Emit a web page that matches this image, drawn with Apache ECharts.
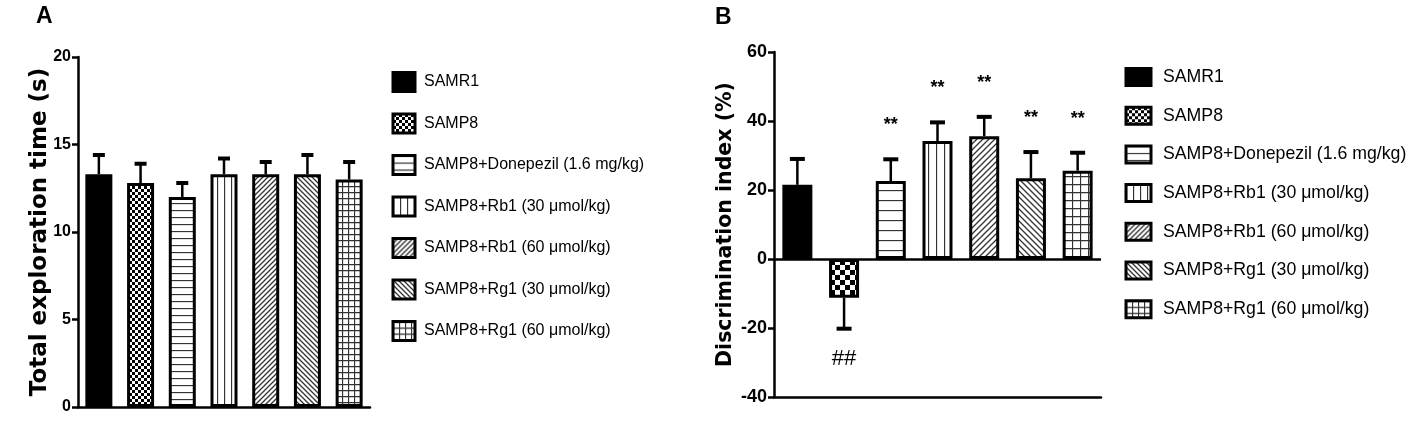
<!DOCTYPE html>
<html>
<head>
<meta charset="utf-8">
<script src="https://cdn.jsdelivr.net/npm/echarts@6/dist/echarts.min.js"></script>
<style>
  html, body { margin: 0; padding: 0; background: #fff; }
  #main { width: 1419px; height: 427px; }
</style>
</head>
<body>
<div id="main"></div>
<script>
// groups (x categories / legend)
const groups = [
  'SAMR1',
  'SAMP8',
  'SAMP8+Donepezil (1.6 mg/kg)',
  'SAMP8+Rb1 (30 μmol/kg)',
  'SAMP8+Rb1 (60 μmol/kg)',
  'SAMP8+Rg1 (30 μmol/kg)',
  'SAMP8+Rg1 (60 μmol/kg)'
];
// panel A: total exploration time (s)
const timeMean = [13.3, 12.8, 12.0, 13.3, 13.3, 13.3, 13.0];
const timeErr = [1.1, 1.1, 0.8, 0.9, 0.7, 1.1, 1.0];
const timeTicks = [0, 5, 10, 15, 20];
// panel B: discrimination index (%)
const diMean = [21.5, -11.2, 22.6, 34.2, 35.6, 23.4, 25.6];
const diErr = [7.5, 9.0, 6.3, 5.4, 5.6, 7.6, 5.2];
const diMarks = ['', '##', '**', '**', '**', '**', '**'];
const diTicks = [-40, -20, 0, 20, 40, 60];

const kinds = ['solid', 'check', 'hline', 'vline', 'diag1', 'diag2', 'grid'];
const narrow = "'Liberation Sans Narrow', 'Liberation Sans', Arial, sans-serif";
const sans = "'Liberation Sans', Arial, sans-serif";

function makePattern(kind, s) {
  if (kind === 'solid') return '#000';
  const c = document.createElement('canvas');
  const n = kind === 'check' ? s * 2 : s;
  c.width = n; c.height = n;
  const g = c.getContext('2d');
  g.fillStyle = '#fff';
  g.fillRect(0, 0, n, n);
  g.strokeStyle = '#333';
  g.lineWidth = 1.3;
  g.beginPath();
  if (kind === 'check') {
    g.fillStyle = '#000';
    g.fillRect(0, 0, s, s);
    g.fillRect(s, s, s, s);
  } else if (kind === 'hline') {
    g.moveTo(0, 0.5); g.lineTo(n, 0.5);
  } else if (kind === 'vline') {
    g.moveTo(0.5, 0); g.lineTo(0.5, n);
  } else if (kind === 'grid') {
    g.moveTo(0, 0.5); g.lineTo(n, 0.5);
    g.moveTo(0.5, 0); g.lineTo(0.5, n);
  } else if (kind === 'diag1') {
    g.moveTo(0, n); g.lineTo(n, 0);
    g.moveTo(-1, 1); g.lineTo(1, -1);
    g.moveTo(n - 1, n + 1); g.lineTo(n + 1, n - 1);
  } else if (kind === 'diag2') {
    g.moveTo(0, 0); g.lineTo(n, n);
    g.moveTo(n - 1, -1); g.lineTo(n + 1, 1);
    g.moveTo(-1, n - 1); g.lineTo(1, n + 1);
  }
  g.stroke();
  return { image: c, repeat: 'repeat' };
}

const sizeA = { check: 3, hline: 7, vline: 7, diag1: 5, diag2: 5, grid: 6 };
const sizeB = { check: 5, hline: 10, vline: 8, diag1: 6, diag2: 6, grid: 8 };

function barSeries(means, grid, bw, sizes) {
  return groups.map((name, i) => ({
    type: 'bar',
    name: name,
    xAxisIndex: grid,
    yAxisIndex: grid,
    data: means.map((v, j) => (j === i ? v : '-')),
    barWidth: bw,
    barGap: '-100%',
    silent: true,
    itemStyle: { color: makePattern(kinds[i], sizes[kinds[i]]), borderColor: '#000', borderWidth: 3 }
  }));
}

function errSeries(means, errs, grid, capW, marks) {
  return {
    type: 'custom',
    xAxisIndex: grid,
    yAxisIndex: grid,
    z: 5,
    silent: true,
    data: means.map((v, i) => [i, v, errs[i]]),
    renderItem: function (params, api) {
      const i = api.value(0), v = api.value(1), e = api.value(2);
      const dir = v < 0 ? -1 : 1;
      const p0 = api.coord([i, v]);
      const p1 = api.coord([i, v + dir * e]);
      const kids = [
        { type: 'line', shape: { x1: p0[0], y1: p0[1], x2: p1[0], y2: p1[1] }, style: { stroke: '#000', lineWidth: 2.5 } },
        { type: 'line', shape: { x1: p1[0] - capW / 2, y1: p1[1], x2: p1[0] + capW / 2, y2: p1[1] }, style: { stroke: '#000', lineWidth: 4 } }
      ];
      const m = marks ? marks[params.dataIndex] : '';
      if (m) {
        kids.push({
          type: 'text',
          x: p1[0],
          y: dir > 0 ? p1[1] - 34 : p1[1] + 30,
          style: {
            text: m,
            fill: '#000',
            font: (dir > 0 ? 'bold 18px ' : '22px ') + sans,
            textAlign: 'center',
            textVerticalAlign: 'middle'
          }
        });
      }
      return { type: 'group', children: kids };
    }
  };
}

const axisLine = { show: true, lineStyle: { color: '#000', width: 2.5 } };

const option = {
  animation: false,
  backgroundColor: '#fff',
  title: [
    { text: 'A', left: 36, top: 5, padding: 0, textStyle: { fontSize: 23, fontWeight: 'bold', fontFamily: sans, color: '#000' } },
    { text: 'B', left: 715, top: 6, padding: 0, textStyle: { fontSize: 23, fontWeight: 'bold', fontFamily: sans, color: '#000' } }
  ],
  legend: [
    {
      data: groups, orient: 'vertical', left: 391.5, top: 71, padding: 0,
      itemWidth: 22, itemHeight: 19, itemGap: 19.5, icon: 'rect', selectedMode: false,
      itemStyle: { borderColor: '#000', borderWidth: 3 },
      textStyle: { fontSize: 16, lineHeight: 19, color: '#000', fontFamily: narrow, padding: [0, 0, 0, 4] }
    },
    {
      data: groups, orient: 'vertical', left: 1124.5, top: 67, padding: 0,
      itemWidth: 25, itemHeight: 17, itemGap: 18.7, icon: 'rect', selectedMode: false,
      itemStyle: { borderColor: '#000', borderWidth: 3 },
      textStyle: { fontSize: 17.7, lineHeight: 17, color: '#000', fontFamily: narrow, padding: [0, 0, 0, 7] }
    }
  ],
  grid: [
    { left: 78, top: 57, width: 292, height: 350 },
    { left: 774, top: 52, width: 327, height: 345 }
  ],
  xAxis: [
    {
      gridIndex: 0, type: 'category', data: groups,
      axisLine: axisLine,
      axisTick: { alignWithLabel: true, length: 9, lineStyle: { color: '#000', width: 2.5 } },
      axisLabel: { show: false }
    },
    {
      gridIndex: 1, type: 'category', data: groups,
      axisLine: { show: true, onZero: false, lineStyle: { color: '#000', width: 2.5 } },
      axisTick: { alignWithLabel: true, length: 9, lineStyle: { color: '#000', width: 2.5 } },
      axisLabel: { show: false }
    }
  ],
  yAxis: [
    {
      gridIndex: 0, type: 'value',
      min: timeTicks[0], max: timeTicks[timeTicks.length - 1], interval: timeTicks[1] - timeTicks[0],
      axisLine: axisLine,
      axisTick: { show: true, length: 6, lineStyle: { color: '#000', width: 2.5 } },
      splitLine: { show: false },
      axisLabel: { margin: 7, color: '#000', fontSize: 16, fontWeight: 'bold', fontFamily: narrow },
      name: 'Total exploration time (s)', nameLocation: 'middle', nameGap: 26, nameMoveOverlap: false,
      nameTextStyle: { fontSize: 23, fontWeight: 'bold', fontFamily: 'DejaVu Sans', color: '#000' }
    },
    {
      gridIndex: 1, type: 'value',
      min: diTicks[0], max: diTicks[diTicks.length - 1], interval: diTicks[1] - diTicks[0],
      axisLine: axisLine,
      axisTick: { show: true, length: 6, lineStyle: { color: '#000', width: 2.5 } },
      splitLine: { show: false },
      axisLabel: { margin: 7, color: '#000', fontSize: 18, fontWeight: 'bold', fontFamily: narrow },
      name: 'Discrimination index (%)', nameLocation: 'middle', nameGap: 38, nameMoveOverlap: false,
      nameTextStyle: { fontSize: 20.5, fontWeight: 'bold', fontFamily: 'DejaVu Sans', color: '#000' }
    }
  ],
  series: []
};

const seriesA = barSeries(timeMean, 0, 27, sizeA);
const seriesB = barSeries(diMean, 1, 30, sizeB);
seriesB[0].markLine = {
  silent: true, symbol: 'none', label: { show: false },
  lineStyle: { color: '#000', width: 2.5, type: 'solid' },
  data: [{ yAxis: 0 }]
};
option.series = seriesA.concat(seriesB, [
  errSeries(timeMean, timeErr, 0, 12, null),
  errSeries(diMean, diErr, 1, 15, diMarks)
]);

const chart = echarts.init(document.getElementById('main'));
chart.setOption(option);
</script>
</body>
</html>
